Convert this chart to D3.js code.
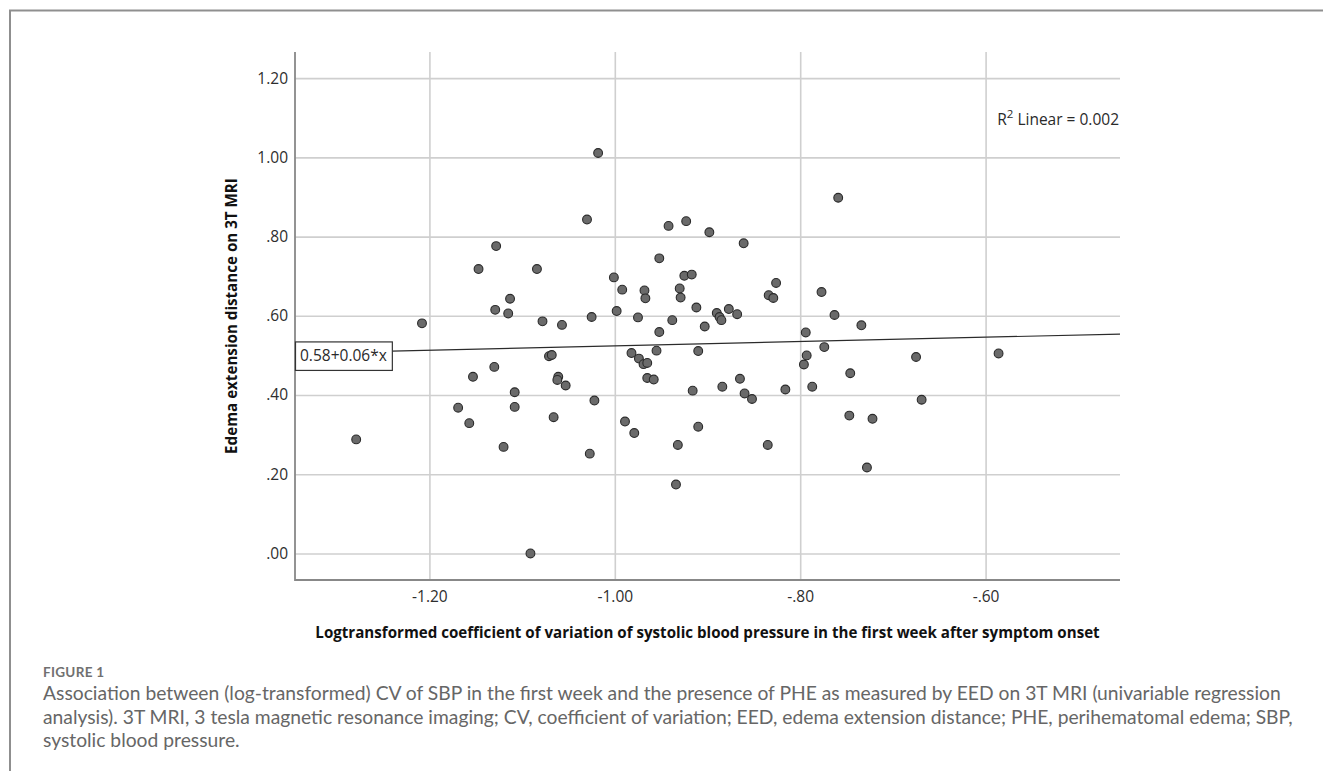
<!DOCTYPE html>
<html>
<head>
<meta charset="utf-8">
<script src="https://cdn.jsdelivr.net/npm/d3@7.9.0/dist/d3.min.js"></script>
<style>
  html, body { margin: 0; padding: 0; background: #fff; }
  svg { display: block; }
</style>
</head>
<body>
<svg id="chart" width="1323" height="771"></svg>
<script>
// Values: log-transformed CV of SBP (x) vs EED on 3T MRI (y)
const logCV = [
  -1.018, -1.030, -0.942, -0.923, -0.898, -0.861, -1.128, -1.147, -1.084, -0.952,
  -1.001, -0.992, -0.968, -0.967, -0.930, -0.929, -0.925, -0.917, -0.912, -0.890,
  -0.877, -0.868, -1.113, -1.129, -1.115, -0.834, -0.829, -0.759, -0.826, -0.777,
  -0.763, -1.078, -1.057, -1.025, -0.998, -0.975, -0.938, -0.903, -0.952, -0.887,
  -0.885, -0.982, -0.974, -0.969, -0.965, -0.955, -0.910, -0.965, -0.958, -0.916,
  -0.884, -0.865, -0.860, -0.852, -1.071, -1.068, -1.153, -1.130, -1.157, -1.061,
  -1.062, -1.053, -1.108, -1.108, -1.066, -1.022, -1.120, -1.027, -0.989, -0.979,
  -0.910, -0.932, -0.934, -1.091, -0.835, -1.208, -1.169, -1.279, -0.734, -0.794,
  -0.774, -0.793, -0.796, -0.675, -0.586, -0.746, -0.816, -0.787, -0.669, -0.747,
  -0.722, -0.728
];
const eed = [
  1.011, 0.843, 0.827, 0.839, 0.811, 0.783, 0.776, 0.718, 0.718, 0.745,
  0.697, 0.666, 0.664, 0.644, 0.669, 0.646, 0.701, 0.704, 0.621, 0.607,
  0.617, 0.604, 0.643, 0.615, 0.606, 0.652, 0.645, 0.898, 0.683, 0.660,
  0.602, 0.586, 0.577, 0.597, 0.612, 0.596, 0.589, 0.573, 0.559, 0.597,
  0.589, 0.506, 0.492, 0.478, 0.481, 0.512, 0.511, 0.443, 0.439, 0.411,
  0.421, 0.441, 0.404, 0.390, 0.498, 0.501, 0.446, 0.471, 0.329, 0.446,
  0.438, 0.424, 0.407, 0.370, 0.344, 0.386, 0.269, 0.252, 0.333, 0.304,
  0.320, 0.274, 0.174, 0.000, 0.274, 0.581, 0.368, 0.288, 0.576, 0.558,
  0.521, 0.500, 0.477, 0.496, 0.505, 0.455, 0.414, 0.421, 0.388, 0.348,
  0.340, 0.217
];

const xTicks = [-1.20, -1.00, -0.80, -0.60];
const yTicks = [0.00, 0.20, 0.40, 0.60, 0.80, 1.00, 1.20];

// fitted line (SPSS label rounds these)
const fitIntercept = 0.579;
const fitSlope = 0.055;
const fitLabel = "0.58+0.06*x";
const r2Value = "0.002";

const xTitle = "Logtransformed coefficient of variation of systolic blood pressure in the first week after symptom onset";
const yTitle = "Edema extension distance on 3T MRI";
const captionHead = "FIGURE 1";
const captionLines = [
  "Association between (log-transformed) CV of SBP in the first week and the presence of PHE as measured by EED on 3T MRI (univariable regression",
  "analysis). 3T MRI, 3 tesla magnetic resonance imaging; CV, coefficient of variation; EED, edema extension distance; PHE, perihematomal edema; SBP,",
  "systolic blood pressure."
];

const svg = d3.select('#chart');
const plotLeft = 295, plotRight = 1120, plotTop = 52, plotBottom = 580;

const x = d3.scaleLinear().domain([-1.345, -0.455]).range([plotLeft, plotRight]);
const y = d3.scaleLinear().domain([-0.067, 1.266]).range([plotBottom, plotTop]);

// SPSS style tick labels: plain hyphen, no leading zero
const fmt = v => d3.format('.2f')(v).replace('\u2212', '-').replace(/^(-?)0\./, '$1.');

const tickFont = '"Open Sans", "DejaVu Sans", sans-serif';

// frame around the figure
svg.append('path')
  .attr('d', 'M10,771 V10.5 H1323')
  .attr('fill', 'none')
  .attr('stroke', '#8f8f8f')
  .attr('stroke-width', 2);

// y axis with horizontal grid
const yAxis = svg.append('g')
  .attr('transform', `translate(${plotLeft},0)`)
  .call(d3.axisLeft(y).tickValues(yTicks).tickFormat(fmt)
    .tickSize(-(plotRight - plotLeft)).tickPadding(7));
yAxis.select('.domain').remove();

// x axis with vertical grid
const xAxis = svg.append('g')
  .attr('transform', `translate(0,${plotBottom})`)
  .call(d3.axisBottom(x).tickValues(xTicks).tickFormat(fmt)
    .tickSize(-(plotBottom - plotTop)).tickPadding(11));
xAxis.select('.domain').remove();

svg.selectAll('.tick line')
  .attr('stroke', '#cfcfcf')
  .attr('stroke-width', 1.6);
svg.selectAll('.tick text')
  .attr('font-family', tickFont)
  .attr('font-size', 15.5)
  .attr('fill', '#2e2e2e');

// axis lines
svg.append('path')
  .attr('d', `M${plotLeft},${plotTop} V${plotBottom} H${plotRight}`)
  .attr('fill', 'none')
  .attr('stroke', '#888')
  .attr('stroke-width', 1.8);

// regression line
const fitAt = v => fitIntercept + fitSlope * v;
svg.append('path')
  .datum(x.domain())
  .attr('d', d3.line().x(d => x(d)).y(d => y(fitAt(d))))
  .attr('fill', 'none')
  .attr('stroke', '#2b2b2b')
  .attr('stroke-width', 1.2);

// points
svg.append('g')
  .selectAll('circle')
  .data(d3.zip(logCV, eed))
  .join('circle')
  .attr('cx', d => x(d[0]))
  .attr('cy', d => y(d[1]))
  .attr('r', 4.4)
  .attr('fill', '#6a6a6a')
  .attr('stroke', '#2a2a2a')
  .attr('stroke-width', 1.1);

// equation box at the left end of the line
const lineY = y(fitAt(x.domain()[0]));
const eqG = svg.append('g');
const eqRect = eqG.append('rect');
const eqText = eqG.append('text')
  .attr('x', plotLeft + 5)
  .attr('y', lineY + 7.5)
  .attr('font-family', tickFont)
  .attr('font-size', 15.5)
  .attr('fill', '#2a2a2a')
  .text(fitLabel);
const eqW = eqText.node().getComputedTextLength();
eqRect
  .attr('x', plotLeft + 0.5)
  .attr('y', lineY - 11.5)
  .attr('width', eqW + 10)
  .attr('height', 28.5)
  .attr('fill', '#fff')
  .attr('stroke', '#333')
  .attr('stroke-width', 1.2);

// R squared label
const r2 = svg.append('text')
  .attr('x', plotRight - 1)
  .attr('y', 125)
  .attr('text-anchor', 'end')
  .attr('font-family', tickFont)
  .attr('font-size', 15.5)
  .attr('fill', '#2a2a2a');
r2.append('tspan').text('R');
r2.append('tspan').attr('dy', -7).attr('font-size', 11.5).text('2');
r2.append('tspan').attr('dy', 7).text(` Linear = ${r2Value}`);

// scale a text node so it spans a target width
function fitWidth(sel, base, target) {
  sel.attr('font-size', base);
  const w = sel.node().getComputedTextLength();
  sel.attr('font-size', base * target / w);
}

// axis titles
const xt = svg.append('text')
  .attr('x', (plotLeft + plotRight) / 2)
  .attr('y', 638)
  .attr('text-anchor', 'middle')
  .attr('font-family', tickFont)
  .attr('font-weight', 'bold')
  .attr('fill', '#111')
  .text(xTitle);
fitWidth(xt, 14, 785);

const yt = svg.append('text')
  .attr('transform', `translate(237,316) rotate(-90)`)
  .attr('text-anchor', 'middle')
  .attr('font-family', tickFont)
  .attr('font-weight', 'bold')
  .attr('fill', '#111')
  .text(yTitle);
fitWidth(yt, 14, 276);

// caption
svg.append('text')
  .attr('x', 43)
  .attr('y', 677)
  .attr('font-family', 'Lato, "Open Sans", sans-serif')
  .attr('font-weight', 'bold')
  .attr('font-size', 13.5)
  .attr('letter-spacing', 0.3)
  .attr('fill', '#707070')
  .text(captionHead);

const cap = svg.append('g')
  .attr('font-family', 'Lato, "Open Sans", sans-serif')
  .attr('fill', '#666');
const capLines = cap.selectAll('text')
  .data(captionLines)
  .join('text')
  .attr('x', 43)
  .attr('y', (d, i) => 700 + i * 23.5)
  .text(d => d);
fitWidth(d3.select(capLines.nodes()[0]), 16, 1239);
capLines.attr('font-size', d3.select(capLines.nodes()[0]).attr('font-size'));
</script>
</body>
</html>
